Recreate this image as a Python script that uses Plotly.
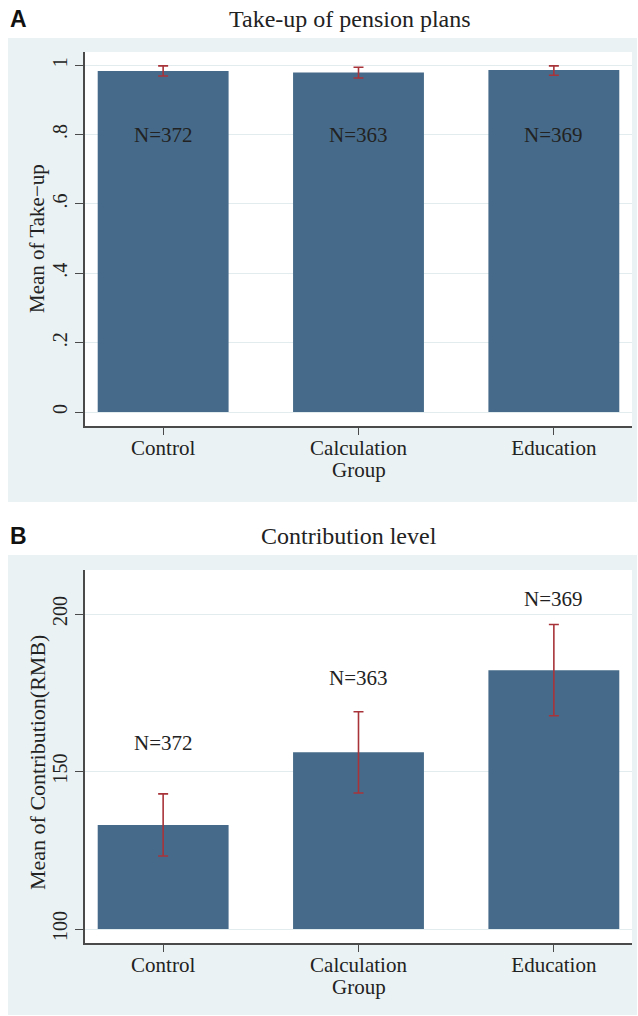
import plotly.graph_objects as go

categories = ["Control", "Calculation<br>Group", "Education"]
n_labels = ["N=372", "N=363", "N=369"]

takeup_mean = [0.983, 0.979, 0.986]
takeup_upper = [0.998, 0.994, 0.998]
takeup_lower = [0.969, 0.963, 0.971]

contrib_mean = [133.0, 156.1, 182.2]
contrib_upper = [142.9, 169.0, 196.7]
contrib_lower = [123.2, 143.2, 167.7]

takeup_ticks = [0, 0.2, 0.4, 0.6, 0.8, 1]
takeup_ticktext = ["0", ".2", ".4", ".6", ".8", "1"]
contrib_ticks = [100, 150, 200]
contrib_ticktext = ["100", "150", "200"]

# layout-only label heights (data units)
takeup_label_y = [0.8, 0.8, 0.8]
contrib_label_y = [159.1, 179.6, 204.7]

W, H = 638, 1016
BAR = "#466b8a"
ERR = "#a8343a"
BG = "#eaf2f3"
GRID = "#e2ecee"
AX = "#4a4a4a"
TXT = "#222"
SERIF = "Liberation Serif, Times New Roman, serif"
SANS = "Liberation Sans, Arial, sans-serif"

def px(x):
    return x / W

def py(y):
    return 1 - y / H

xs = list(range(len(categories)))
first_lines = [c.split("<br>")[0] for c in categories]
extra_lines = [c.split("<br>")[1:] for c in categories]

fig = go.Figure()

def add_panel(means, upper, lower, base, xa, ya):
    fig.add_trace(go.Bar(
        x=xs, y=[m - base for m in means], base=base, width=0.67,
        marker=dict(color=BAR, line=dict(width=0)),
        error_y=dict(type="data", symmetric=False,
                     array=[u - m for u, m in zip(upper, means)],
                     arrayminus=[m - l for m, l in zip(means, lower)],
                     color=ERR, thickness=1.6, width=5),
        xaxis=xa, yaxis=ya, showlegend=False, hoverinfo="skip"))

add_panel(takeup_mean, takeup_upper, takeup_lower, 0, "x", "y")
add_panel(contrib_mean, contrib_upper, contrib_lower, 100, "x2", "y2")

xaxis_common = dict(
    range=[-0.4, 2.4], tickvals=xs, ticktext=first_lines,
    showline=True, linecolor=AX, linewidth=1.5, mirror=False,
    ticks="outside", ticklen=7, tickcolor=AX, tickwidth=1.3,
    ticklabelstandoff=-5,
    showgrid=False, zeroline=False,
    tickfont=dict(family=SERIF, size=21, color=TXT),
    domain=[px(85), px(632)], fixedrange=True,
)
yaxis_common = dict(
    showline=True, linecolor=AX, linewidth=1.5,
    ticks="outside", ticklen=8, tickcolor=AX, tickwidth=1.3,
    showgrid=True, gridcolor=GRID, gridwidth=1.2, zeroline=False,
    tickangle=-90, tickfont=dict(family=SERIF, size=20, color=TXT),
    fixedrange=True,
)

fig.update_layout(
    width=W, height=H, margin=dict(l=0, r=0, t=0, b=0),
    paper_bgcolor="white", plot_bgcolor="rgba(0,0,0,0)",
    xaxis=dict(**xaxis_common, anchor="y"),
    xaxis2=dict(**xaxis_common, anchor="y2"),
    yaxis=dict(**yaxis_common, range=[-0.04, 1.038], tickvals=takeup_ticks,
               ticktext=takeup_ticktext, domain=[py(426), py(52)], anchor="x"),
    yaxis2=dict(**yaxis_common, range=[95.56, 214], tickvals=contrib_ticks,
                ticktext=contrib_ticktext, domain=[py(943), py(570)], anchor="x2"),
)

shapes = []
for top, bot, ptop, pbot in [(38, 502, 52, 426), (555, 1015, 570, 943)]:
    shapes.append(dict(type="rect", xref="paper", yref="paper",
                       x0=px(8), x1=px(637), y0=py(bot), y1=py(top),
                       fillcolor=BG, line=dict(width=0), layer="below"))
    shapes.append(dict(type="rect", xref="paper", yref="paper",
                       x0=px(84), x1=px(632), y0=py(pbot), y1=py(ptop),
                       fillcolor="white", line=dict(width=0), layer="below"))
fig.update_layout(shapes=shapes)

ann = []
for i, t in enumerate(n_labels):
    ann.append(dict(x=xs[i], y=takeup_label_y[i], xref="x", yref="y", text=t,
                    showarrow=False, font=dict(family=SERIF, size=21, color=TXT)))
    ann.append(dict(x=xs[i], y=contrib_label_y[i], xref="x2", yref="y2", text=t,
                    showarrow=False, font=dict(family=SERIF, size=21, color=TXT)))

# second lines of the category labels (tighter line spacing than <br>)
for xa, ybase in [("x", 470), ("x2", 987)]:
    for i, lines in enumerate(extra_lines):
        for k, line in enumerate(lines):
            ann.append(dict(x=xs[i], y=py(ybase + 24 * k), xref=xa, yref="paper",
                            text=line, showarrow=False, xanchor="center",
                            yanchor="middle",
                            font=dict(family=SERIF, size=21, color=TXT)))

ann += [
    dict(x=px(8), y=py(19), xref="paper", yref="paper", text="<b>A</b>",
         xanchor="left", yanchor="middle", showarrow=False,
         font=dict(family=SANS, size=23, color="#111")),
    dict(x=px(8), y=py(536), xref="paper", yref="paper", text="<b>B</b>",
         xanchor="left", yanchor="middle", showarrow=False,
         font=dict(family=SANS, size=23, color="#111")),
    dict(x=px(350), y=py(19), xref="paper", yref="paper", text="Take-up of pension plans",
         xanchor="center", yanchor="middle", showarrow=False,
         font=dict(family=SERIF, size=24, color=TXT)),
    dict(x=px(349), y=py(536), xref="paper", yref="paper", text="Contribution level",
         xanchor="center", yanchor="middle", showarrow=False,
         font=dict(family=SERIF, size=24, color=TXT)),
    dict(x=px(37), y=py(239), xref="paper", yref="paper", text="Mean of Take\u2212up",
         textangle=-90, xanchor="center", yanchor="middle", showarrow=False,
         font=dict(family=SERIF, size=21, color=TXT)),
    dict(x=px(37), y=py(763), xref="paper", yref="paper", text="Mean of Contribution(RMB)",
         textangle=-90, xanchor="center", yanchor="middle", showarrow=False,
         font=dict(family=SERIF, size=22, color=TXT)),
]
fig.update_layout(annotations=ann)

fig.write_html("out.html", config={"displayModeBar": False},
               post_script="document.body.style.margin='0px';")
